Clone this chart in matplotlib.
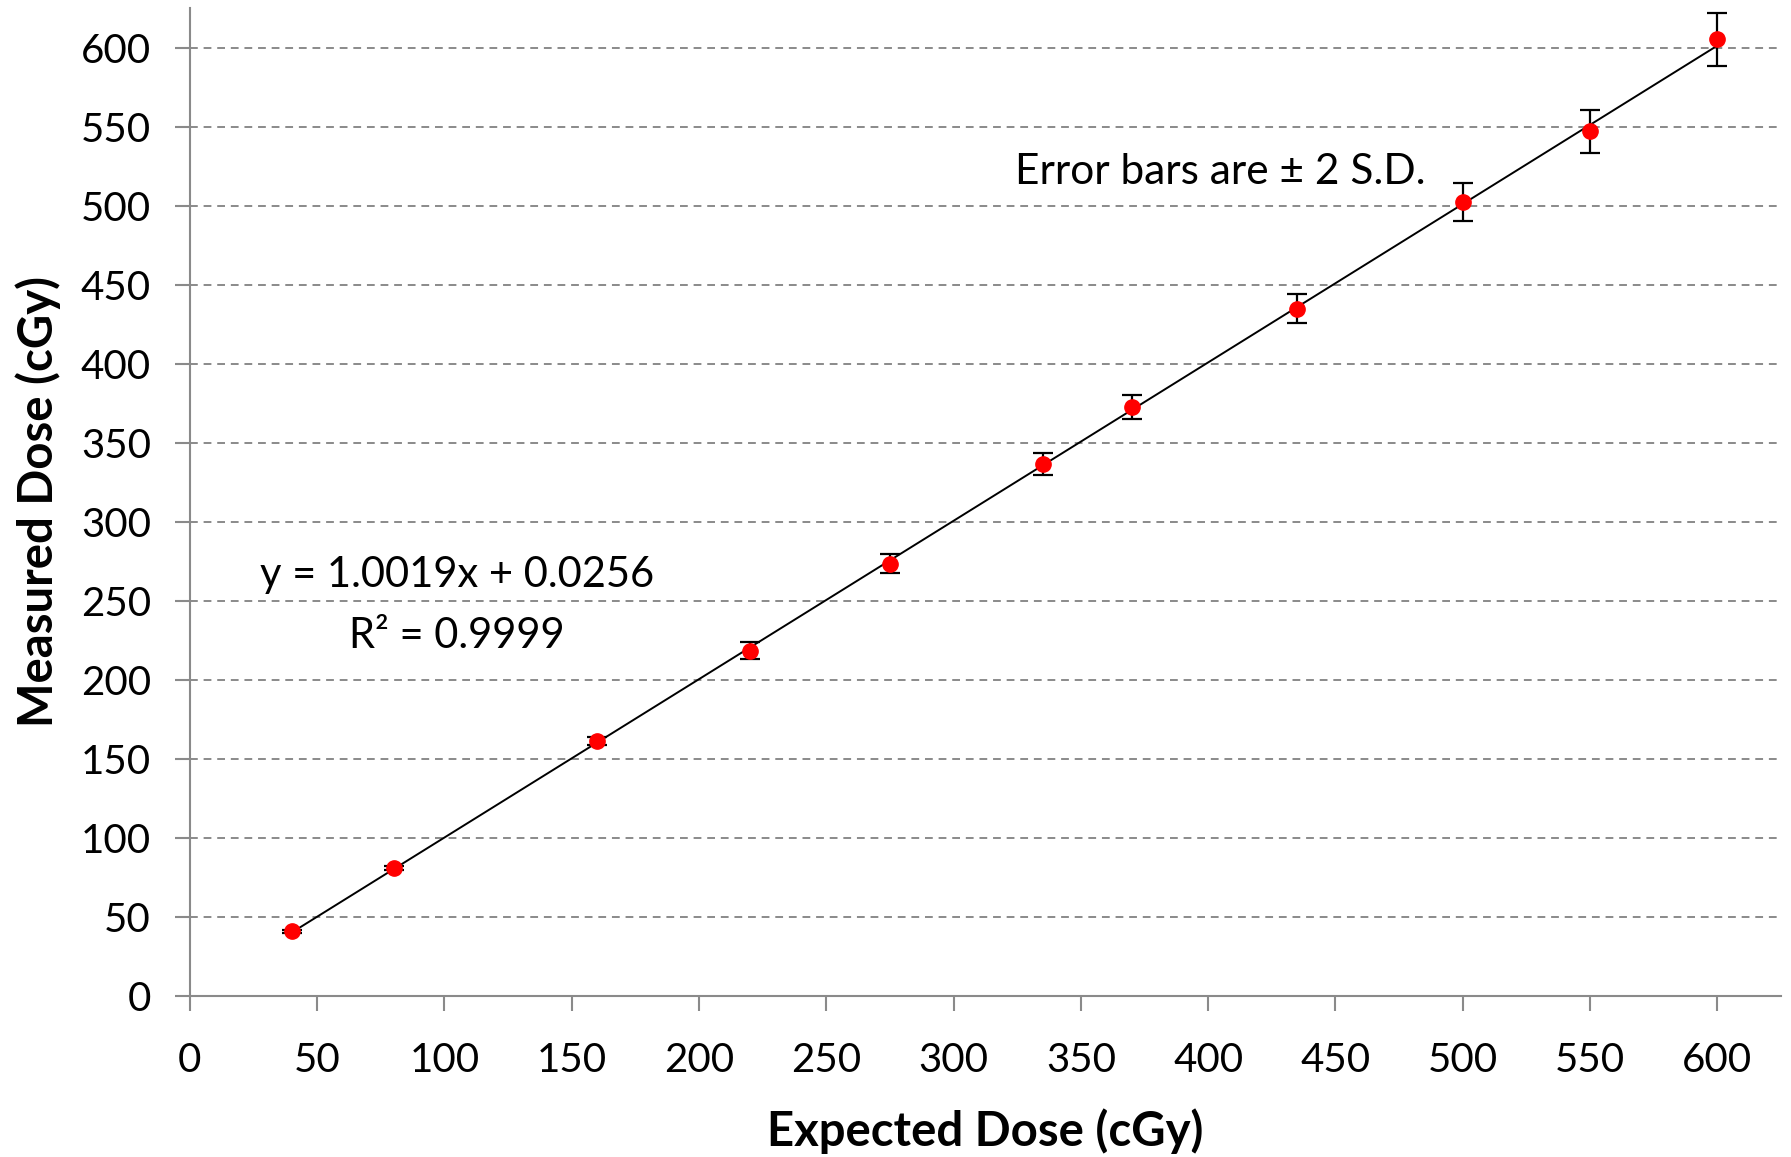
import matplotlib
matplotlib.use("Agg")
import matplotlib.pyplot as plt
import numpy as np

# Expected vs measured dose, error bars = 2 S.D.
expected = [40, 80, 160, 220, 275, 335, 370, 435, 500, 550, 600]
measured = [41, 81, 161.5, 218.5, 273.3, 336.5, 372.6, 434.8, 502.2, 546.9, 605.2]
err_2sd = [1.0, 1.5, 2.5, 5.4, 6.0, 7.2, 7.7, 9.2, 12.1, 13.6, 16.6]

# linear trendline coefficients (as printed on the chart)
slope = 1.0019
intercept = 0.0256
r_squared = 0.9999

plt.rcParams['font.family'] = ['Lato', 'DejaVu Sans']

fig = plt.figure(figsize=(17.91, 11.57), dpi=100)
ax = fig.add_axes([0.106, 0.1392, 0.8884, 0.8539])

ax.set_xlim(0, 625)
ax.set_ylim(0, 625)

# horizontal dashed gridlines
ax.set_yticks(np.arange(0, 601, 50))
ax.set_xticks(np.arange(0, 601, 50))
ax.yaxis.grid(True, color='#8a8a8a', linestyle=(0, (4, 3)), linewidth=1.4)
ax.xaxis.grid(False)
ax.set_axisbelow(True)

for side in ['top', 'right']:
    ax.spines[side].set_visible(False)
for side in ['left', 'bottom']:
    ax.spines[side].set_color('#8a8a8a')
    ax.spines[side].set_linewidth(1.5)

ax.tick_params(axis='both', direction='out', length=11, width=1.5, color='#8a8a8a',
               labelsize=29, labelcolor='black')
ax.tick_params(axis='x', pad=22)
ax.tick_params(axis='y', pad=17)

# trendline
xfit = np.array([expected[0], expected[-1]])
ax.plot(xfit, slope * xfit + intercept, color='black', linewidth=1.4, zorder=2)

# data with error bars
ax.errorbar(expected, measured, yerr=err_2sd, fmt='o', color='red', markersize=11,
            ecolor='black', elinewidth=1.6, capsize=7, capthick=1.6, zorder=3)

ax.text(105, 266, f"y = {slope:.4f}x + {intercept:.4f}", fontsize=30,
        ha='center', va='center')
ax.text(105, 228, f"R² = {r_squared:.4f}", fontsize=30, ha='center', va='center')
ax.text(324, 521, "Error bars are ± 2 S.D.", fontsize=30.5, ha='left', va='center')

ax.set_xlabel("Expected Dose (cGy)", fontsize=34, fontweight='bold', labelpad=21)
ax.set_ylabel("Measured Dose (cGy)", fontsize=34, fontweight='bold', labelpad=14)

fig.savefig("out.png", dpi=100)
